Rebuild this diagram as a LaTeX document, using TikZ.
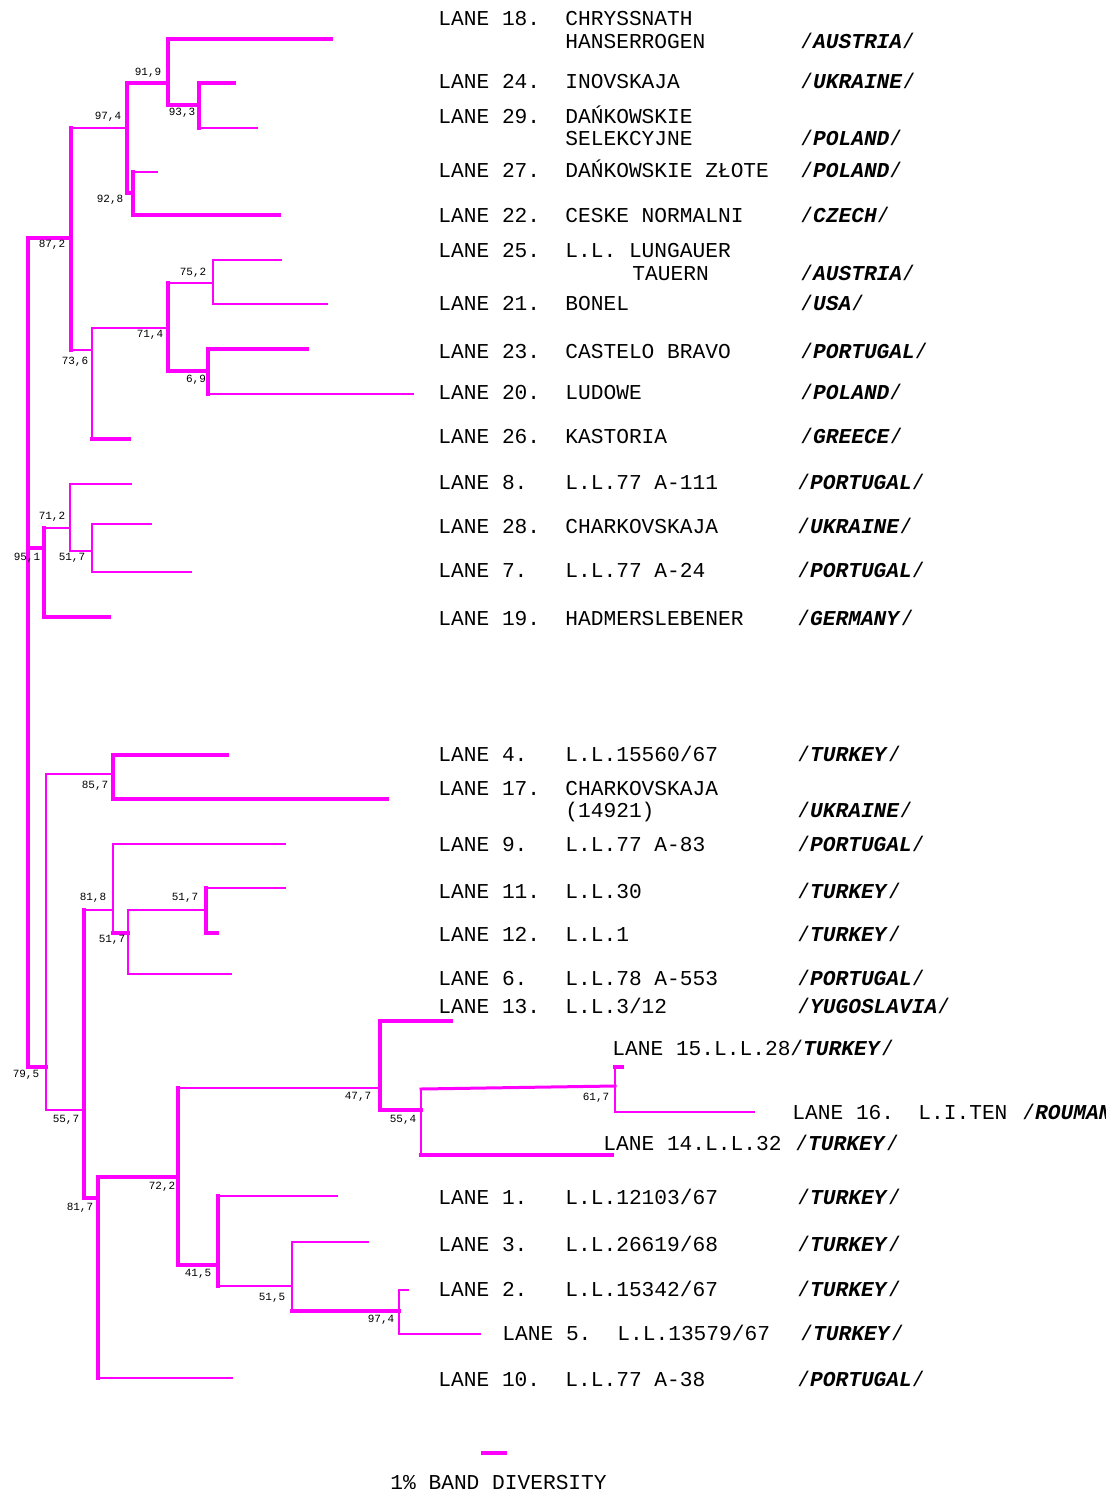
\documentclass[tikz,border=0pt]{standalone}
\usepackage{fontspec}
\newfontfamily\monofont{Liberation Mono}
\definecolor{treemag}{RGB}{255,0,255}
\tikzset{
  wideline/.style={draw=treemag, line width=2pt, line cap=rect},
  narrowline/.style={draw=treemag, line width=1pt, line cap=rect},
  lanetext/.style={anchor=base west, inner sep=0pt, font=\monofont\fontsize{10.6}{12}\selectfont},
  boot/.style={inner sep=0pt, font=\monofont\fontsize{5.5}{6}\selectfont},
}
% horizontal branch from the vertical of node #2 to node/tip #3
\newcommand\hbranch[3]{\draw[#1] (#2 |- #3) -- (#3);}
% vertical bar of node #2 spanning from child #3 to child #4
\newcommand\vbranch[4]{\draw[#1] (#2 |- #3) -- (#2 |- #4);}
\newcommand\ctry[1]{/\textbf{\textit{#1}}/}
\begin{document}
\begin{tikzpicture}[x=0.5pt,y=-0.5pt]
\useasboundingbox (0,0) rectangle (1105,1492);
\clip (0,0) rectangle (1105,1492);

% ---- internal nodes (x of vertical bar, y where the parent meets it)
\coordinate (nRoot) at (28,238);
\coordinate (nE) at (71,238);
\coordinate (nC) at (127,128);
\coordinate (nA) at (168,83);
\coordinate (nB) at (199,105);
\coordinate (nD) at (133,193);
\coordinate (nF) at (92,350);
\coordinate (nG) at (168,328);
\coordinate (nI) at (213,283);
\coordinate (nJ) at (208,371);
\coordinate (nK) at (44,548);
\coordinate (nL) at (70,528);
\coordinate (nM) at (92,551);
\coordinate (nN) at (46,1067);
\coordinate (nO) at (113,774);
\coordinate (nP) at (84,1110);
\coordinate (nQ) at (113,910);
\coordinate (nR) at (128,933);
\coordinate (nS) at (206,910);
\coordinate (nT) at (98,1198);
\coordinate (nU) at (178,1177);
\coordinate (nV) at (380,1088);
\coordinate (nW) at (421,1110);
\coordinate (nX) at (615,1089);
\coordinate (nY) at (218,1265);
\coordinate (nZ) at (292,1286);
\coordinate (nAA) at (399,1311);

% ---- tips
\coordinate (t18) at (331,39);
\coordinate (t24) at (234,83);
\coordinate (t29) at (257,128);
\coordinate (t27) at (157,172);
\coordinate (t22) at (279,215);
\coordinate (t25) at (281,260);
\coordinate (t21) at (327,304);
\coordinate (t23) at (307,349);
\coordinate (t20) at (413,394);
\coordinate (t26) at (129,439);
\coordinate (t8) at (131,484);
\coordinate (t28) at (151,524);
\coordinate (t7) at (191,572);
\coordinate (t19) at (109,617);
\coordinate (t4) at (227,755);
\coordinate (t17) at (387,799);
\coordinate (t9) at (285,844);
\coordinate (t11) at (285,888);
\coordinate (t12) at (217,933);
\coordinate (t6) at (231,974);
\coordinate (t13) at (451,1021);
\coordinate (t15) at (622,1067);
\coordinate (t16) at (754,1112);
\coordinate (t14) at (612,1155);
\coordinate (t1) at (337,1196);
\coordinate (t3) at (368,1242);
\coordinate (t2) at (408,1290);
\coordinate (t5) at (480,1334);
\coordinate (t10) at (232,1378);

% ---- vertical bars
\vbranch{wideline}{nRoot}{nE}{nN}
\vbranch{wideline}{nE}{nC}{nF}
\vbranch{wideline}{nC}{nA}{nD}
\vbranch{wideline}{nA}{t18}{nB}
\vbranch{wideline}{nB}{t24}{t29}
\vbranch{wideline}{nD}{t27}{t22}
\vbranch{narrowline}{nF}{nG}{t26}
\vbranch{wideline}{nG}{nI}{nJ}
\vbranch{narrowline}{nI}{t25}{t21}
\vbranch{wideline}{nJ}{t23}{t20}
\vbranch{wideline}{nK}{nL}{t19}
\vbranch{narrowline}{nL}{t8}{nM}
\vbranch{narrowline}{nM}{t28}{t7}
\vbranch{narrowline}{nN}{nO}{nP}
\vbranch{wideline}{nO}{t4}{t17}
\vbranch{wideline}{nP}{nQ}{nT}
\vbranch{narrowline}{nQ}{t9}{nR}
\vbranch{narrowline}{nR}{nS}{t6}
\vbranch{wideline}{nS}{t11}{t12}
\vbranch{wideline}{nT}{nU}{t10}
\vbranch{wideline}{nU}{nV}{nY}
\vbranch{wideline}{nV}{t13}{nW}
\vbranch{narrowline}{nW}{nX}{t14}
\vbranch{narrowline}{nX}{t15}{t16}
\vbranch{wideline}{nY}{t1}{nZ}
\vbranch{narrowline}{nZ}{t3}{nAA}
\vbranch{narrowline}{nAA}{t2}{t5}

% ---- horizontal branches
\hbranch{wideline}{nRoot}{nE}
\hbranch{narrowline}{nE}{nC}
\hbranch{wideline}{nC}{nA}
\hbranch{wideline}{nA}{t18}
\hbranch{wideline}{nA}{nB}
\hbranch{wideline}{nB}{t24}
\hbranch{narrowline}{nB}{t29}
\hbranch{wideline}{nC}{nD}
\hbranch{narrowline}{nD}{t27}
\hbranch{wideline}{nD}{t22}
\hbranch{narrowline}{nE}{nF}
\hbranch{wideline}{nF}{t26}
\hbranch{narrowline}{nF}{nG}
\hbranch{narrowline}{nG}{nI}
\hbranch{narrowline}{nI}{t25}
\hbranch{narrowline}{nI}{t21}
\hbranch{wideline}{nG}{nJ}
\hbranch{wideline}{nJ}{t23}
\hbranch{narrowline}{nJ}{t20}
\hbranch{wideline}{nRoot}{nK}
\hbranch{wideline}{nK}{t19}
\hbranch{narrowline}{nK}{nL}
\hbranch{narrowline}{nL}{t8}
\hbranch{narrowline}{nL}{nM}
\hbranch{narrowline}{nM}{t28}
\hbranch{narrowline}{nM}{t7}
\hbranch{wideline}{nRoot}{nN}
\hbranch{narrowline}{nN}{nO}
\hbranch{wideline}{nO}{t4}
\hbranch{wideline}{nO}{t17}
\hbranch{narrowline}{nN}{nP}
\hbranch{narrowline}{nP}{nQ}
\hbranch{narrowline}{nQ}{t9}
\hbranch{wideline}{nQ}{nR}
\hbranch{narrowline}{nR}{nS}
\hbranch{narrowline}{nS}{t11}
\hbranch{wideline}{nS}{t12}
\hbranch{narrowline}{nR}{t6}
\hbranch{wideline}{nP}{nT}
\hbranch{narrowline}{nT}{t10}
\hbranch{wideline}{nT}{nU}
\hbranch{narrowline}{nU}{nV}
\hbranch{wideline}{nV}{t13}
\hbranch{wideline}{nV}{nW}
\draw[draw=treemag, line width=1.5pt, line cap=rect] (nW |- nX) -- ([yshift=1.5pt]nX);
\hbranch{wideline}{nW}{t14}
\hbranch{wideline}{nX}{t15}
\hbranch{narrowline}{nX}{t16}
\hbranch{wideline}{nU}{nY}
\hbranch{narrowline}{nY}{t1}
\hbranch{narrowline}{nY}{nZ}
\hbranch{narrowline}{nZ}{t3}
\hbranch{wideline}{nZ}{nAA}
\hbranch{narrowline}{nAA}{t2}
\hbranch{narrowline}{nAA}{t5}

% ---- bootstrap values
\node[boot] (b1) at (148,73) {91,9};
\node[boot] (b2) at (182,113) {93,3};
\node[boot] (b3) at (108,117) {97,4};
\node[boot] (b4) at (110,200) {92,8};
\node[boot] (b5) at (52,245) {87,2};
\node[boot] (b6) at (193,273) {75,2};
\node[boot] (b7) at (150,335) {71,4};
\node[boot] (b8) at (75,362) {73,6};
\node[boot] (b9) at (196,380) {6,9};
\node[boot] (b10) at (52,517) {71,2};
\node[boot] (b11) at (27,558) {95,1};
\node[boot] (b12) at (72,558) {51,7};
\node[boot] (b13) at (95,786) {85,7};
\node[boot] (b14) at (93,898) {81,8};
\node[boot] (b15) at (185,898) {51,7};
\node[boot] (b16) at (112,940) {51,7};
\node[boot] (b17) at (26,1075) {79,5};
\node[boot] (b18) at (66,1120) {55,7};
\node[boot] (b19) at (358,1097) {47,7};
\node[boot] (b20) at (403,1120) {55,4};
\node[boot] (b21) at (596,1098) {61,7};
\node[boot] (b22) at (162,1187) {72,2};
\node[boot] (b23) at (80,1208) {81,7};
\node[boot] (b24) at (198,1274) {41,5};
\node[boot] (b25) at (272,1298) {51,5};
\node[boot] (b26) at (381,1320) {97,4};

% ---- lane labels
\node[lanetext] (l18) at (438,26) {LANE 18.};
\node[lanetext] (s18a) at (565,26) {CHRYSSNATH};
\node[lanetext] (s18b) at (565,49) {HANSERROGEN};
\node[lanetext] (c18) at (800,49) {\ctry{AUSTRIA}};

\node[lanetext] (l24) at (438,89) {LANE 24.};
\node[lanetext] (s24) at (565,89) {INOVSKAJA};
\node[lanetext] (c24) at (800,89) {\ctry{UKRAINE}};

\node[lanetext] (l29) at (438,124) {LANE 29.};
\node[lanetext] (s29a) at (565,124) {DAŃKOWSKIE};
\node[lanetext] (s29b) at (565,146) {SELEKCYJNE};
\node[lanetext] (c29) at (800,146) {\ctry{POLAND}};

\node[lanetext] (l27) at (438,178) {LANE 27.};
\node[lanetext] (s27) at (565,178) {DAŃKOWSKIE ZŁOTE};
\node[lanetext] (c27) at (800,178) {\ctry{POLAND}};

\node[lanetext] (l22) at (438,223) {LANE 22.};
\node[lanetext] (s22) at (565,223) {CESKE NORMALNI};
\node[lanetext] (c22) at (800,223) {\ctry{CZECH}};

\node[lanetext] (l25) at (438,258) {LANE 25.};
\node[lanetext] (s25a) at (565,258) {L.L. LUNGAUER};
\node[lanetext] (s25b) at (632,281) {TAUERN};
\node[lanetext] (c25) at (800,281) {\ctry{AUSTRIA}};

\node[lanetext] (l21) at (438,311) {LANE 21.};
\node[lanetext] (s21) at (565,311) {BONEL};
\node[lanetext] (c21) at (800,311) {\ctry{USA}};

\node[lanetext] (l23) at (438,358) {LANE 23.};
\node[lanetext] (s23) at (565,358) {CASTELO BRAVO};
\node[lanetext] (c23) at (800,358) {\ctry{PORTUGAL}};

\node[lanetext] (l20) at (438,400) {LANE 20.};
\node[lanetext] (s20) at (565,400) {LUDOWE};
\node[lanetext] (c20) at (800,400) {\ctry{POLAND}};

\node[lanetext] (l26) at (438,443) {LANE 26.};
\node[lanetext] (s26) at (565,443) {KASTORIA};
\node[lanetext] (c26) at (800,443) {\ctry{GREECE}};

\node[lanetext] (l8) at (438,489) {LANE 8.};
\node[lanetext] (s8) at (565,489) {L.L.77 A-111};
\node[lanetext] (c8) at (797,489) {\ctry{PORTUGAL}};

\node[lanetext] (l28) at (438,533) {LANE 28.};
\node[lanetext] (s28) at (565,533) {CHARKOVSKAJA};
\node[lanetext] (c28) at (797,533) {\ctry{UKRAINE}};

\node[lanetext] (l7) at (438,577) {LANE 7.};
\node[lanetext] (s7) at (565,577) {L.L.77 A-24};
\node[lanetext] (c7) at (797,577) {\ctry{PORTUGAL}};

\node[lanetext] (l19) at (438,625) {LANE 19.};
\node[lanetext] (s19) at (565,625) {HADMERSLEBENER};
\node[lanetext] (c19) at (797,625) {\ctry{GERMANY}};

\node[lanetext] (l4) at (438,761) {LANE 4.};
\node[lanetext] (s4) at (565,761) {L.L.15560/67};
\node[lanetext] (c4) at (797,761) {\ctry{TURKEY}};

\node[lanetext] (l17) at (438,795) {LANE 17.};
\node[lanetext] (s17a) at (565,795) {CHARKOVSKAJA};
\node[lanetext] (s17b) at (565,817) {(14921)};
\node[lanetext] (c17) at (797,817) {\ctry{UKRAINE}};

\node[lanetext] (l9) at (438,851) {LANE 9.};
\node[lanetext] (s9) at (565,851) {L.L.77 A-83};
\node[lanetext] (c9) at (797,851) {\ctry{PORTUGAL}};

\node[lanetext] (l11) at (438,898) {LANE 11.};
\node[lanetext] (s11) at (565,898) {L.L.30};
\node[lanetext] (c11) at (797,898) {\ctry{TURKEY}};

\node[lanetext] (l12) at (438,941) {LANE 12.};
\node[lanetext] (s12) at (565,941) {L.L.1};
\node[lanetext] (c12) at (797,941) {\ctry{TURKEY}};

\node[lanetext] (l6) at (438,985) {LANE 6.};
\node[lanetext] (s6) at (565,985) {L.L.78 A-553};
\node[lanetext] (c6) at (797,985) {\ctry{PORTUGAL}};

\node[lanetext] (l13) at (438,1013) {LANE 13.};
\node[lanetext] (s13) at (565,1013) {L.L.3/12};
\node[lanetext] (c13) at (797,1013) {\ctry{YUGOSLAVIA}};

\node[lanetext] (l15) at (612,1055) {LANE 15.L.L.28/\textbf{\textit{TURKEY}}/};

\node[lanetext] (l16) at (792,1119) {LANE 16.};
\node[lanetext] (s16) at (918,1119) {L.I.TEN};
\node[lanetext] (c16) at (1022,1119) {\ctry{ROUMANIA}};

\node[lanetext] (l14) at (603,1150) {LANE 14.L.L.32};
\node[lanetext] (c14) at (795,1150) {\ctry{TURKEY}};

\node[lanetext] (l1) at (438,1204) {LANE 1.};
\node[lanetext] (s1) at (565,1204) {L.L.12103/67};
\node[lanetext] (c1) at (797,1204) {\ctry{TURKEY}};

\node[lanetext] (l3) at (438,1251) {LANE 3.};
\node[lanetext] (s3) at (565,1251) {L.L.26619/68};
\node[lanetext] (c3) at (797,1251) {\ctry{TURKEY}};

\node[lanetext] (l2) at (438,1296) {LANE 2.};
\node[lanetext] (s2) at (565,1296) {L.L.15342/67};
\node[lanetext] (c2) at (797,1296) {\ctry{TURKEY}};

\node[lanetext] (l5) at (502,1340) {LANE 5.};
\node[lanetext] (s5) at (617,1340) {L.L.13579/67};
\node[lanetext] (c5) at (800,1340) {\ctry{TURKEY}};

\node[lanetext] (l10) at (438,1386) {LANE 10.};
\node[lanetext] (s10) at (565,1386) {L.L.77 A-38};
\node[lanetext] (c10) at (797,1386) {\ctry{PORTUGAL}};

% ---- scale bar
\coordinate (barL) at (481,1453);
\coordinate (barR) at (507,1453);
\draw[draw=treemag, line width=2pt] (barL) -- (barR);
\node[lanetext] (barlabel) at (390,1489) {1\% BAND DIVERSITY};
\end{tikzpicture}
\end{document}
